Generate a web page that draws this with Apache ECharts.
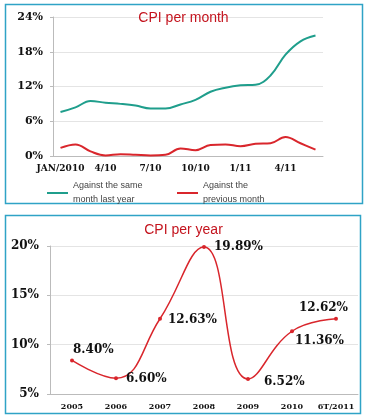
<!DOCTYPE html>
<html>
<head>
<meta charset="utf-8">
<script src="https://cdn.jsdelivr.net/npm/echarts@6/dist/echarts.min.js"></script>
<style>
html,body{margin:0;padding:0;background:#fff;}
#c{width:367px;height:417px;}
</style>
</head>
<body>
<div id="c"></div>
<script>
// ---- Data: CPI per month ----
var monthCategories = ["JAN/2010","2/10","3/10","4/10","5/10","6/10","7/10","8/10","9/10","10/10","11/10","12/10","1/11","2/11","3/11","4/11","5/11","6/11"];
var yoyValues = [7.6, 8.4, 9.5, 9.2, 9.0, 8.7, 8.2, 8.2, 8.9, 9.7, 11.1, 11.8, 12.2, 12.3, 13.9, 17.5, 19.8, 20.8];
var momValues = [1.4, 2.0, 0.8, 0.1, 0.3, 0.2, 0.1, 0.2, 1.3, 1.0, 1.9, 2.0, 1.7, 2.1, 2.2, 3.3, 2.2, 1.1];
var monthTitle = "CPI per month";
var yoyName = "Against the same\nmonth last year";
var momName = "Against the\nprevious month";

// ---- Data: CPI per year ----
var yearCategories = ["2005","2006","2007","2008","2009","2010","6T/2011"];
var yearValues = [8.40, 6.60, 12.63, 19.89, 6.52, 11.36, 12.62];
var yearTitle = "CPI per year";

var serif = "DejaVu Serif";
var sans = "Liberation Sans";
var teal = "#1f9e8c";
var red = "#d9262c";
var border = "#2fa3c6";

// per-point label offsets (style only)
var labelOffsets = [[-1,-11],[8,1],[6,1],[8,0],[14,3],[1,10],[-39,-11]];

var yearData = yearValues.map(function(v, i){
  return {value: v, label: {offset: labelOffsets[i]}};
});

var chart = echarts.init(document.getElementById('c'), null, {renderer:'canvas'});
chart.setOption({
  animation: false,
  backgroundColor: '#fff',
  title: [
    {text: monthTitle, left: 'center', top: 6, textStyle: {color: '#c4141e', fontFamily: sans, fontSize: 14, fontWeight: 'normal'}},
    {text: yearTitle, left: 'center', top: 218, textStyle: {color: '#c4141e', fontFamily: sans, fontSize: 14, fontWeight: 'normal'}}
  ],
  legend: [
    {data: [yoyName], left: 42, top: 174, icon: 'rect', itemWidth: 21, itemHeight: 2, itemGap: 5,
     textStyle: {fontFamily: sans, fontSize: 9, color: '#444', lineHeight: 14}},
    {data: [momName], left: 172, top: 174, icon: 'rect', itemWidth: 21, itemHeight: 2, itemGap: 5,
     textStyle: {fontFamily: sans, fontSize: 9, color: '#444', lineHeight: 14}}
  ],
  grid: [
    {left: 53, top: 17, width: 270, height: 139},
    {left: 50, top: 246, width: 308, height: 148}
  ],
  xAxis: [
    {type: 'category', gridIndex: 0, data: monthCategories, boundaryGap: true,
     axisLine: {lineStyle: {color: '#bbb'}},
     axisTick: {interval: 1, length: 4, lineStyle: {color: '#bbb'}},
     axisLabel: {interval: 2, margin: 8, fontFamily: serif, fontWeight: 'bold', fontSize: 9, color: '#111'}},
    {type: 'category', gridIndex: 1, data: yearCategories, boundaryGap: true,
     axisLine: {lineStyle: {color: '#bbb'}},
     axisTick: {length: 4, lineStyle: {color: '#bbb'}},
     axisLabel: {interval: 0, hideOverlap: false, margin: 9, fontFamily: serif, fontWeight: 'bold', fontSize: 8, color: '#111'}}
  ],
  yAxis: [
    {type: 'value', gridIndex: 0, min: 0, max: 24, interval: 6,
     axisLine: {show: true, lineStyle: {color: '#bbb'}},
     axisTick: {show: true, length: 3, lineStyle: {color: '#bbb'}},
     splitLine: {lineStyle: {color: '#e4e4e4'}},
     axisLabel: {margin: 10, fontFamily: serif, fontWeight: 'bold', fontSize: 11, color: '#111', formatter: '{value}%'}},
    {type: 'value', gridIndex: 1, min: 5, max: 20, interval: 5,
     axisLine: {show: true, lineStyle: {color: '#bbb'}},
     axisTick: {show: true, length: 3, lineStyle: {color: '#bbb'}},
     splitLine: {lineStyle: {color: '#e4e4e4'}},
     axisLabel: {margin: 11, fontFamily: serif, fontWeight: 'bold', fontSize: 12, color: '#111', formatter: '{value}%'}}
  ],
  series: [
    {name: yoyName, type: 'line', xAxisIndex: 0, yAxisIndex: 0, data: yoyValues, smooth: 0.4,
     showSymbol: false, color: teal, lineStyle: {width: 2, color: teal}},
    {name: momName, type: 'line', xAxisIndex: 0, yAxisIndex: 0, data: momValues, smooth: 0.4,
     showSymbol: false, color: red, lineStyle: {width: 2, color: red}},
    {name: 'year', type: 'line', xAxisIndex: 1, yAxisIndex: 1, data: yearData, smooth: 0.45,
     symbol: 'circle', symbolSize: 4, color: red, lineStyle: {width: 1.5, color: red},
     itemStyle: {color: red},
     label: {show: true, position: 'right', distance: 0, formatter: function(p){ return p.value.toFixed(2) + '%'; },
       fontFamily: serif, fontWeight: 'bold', fontSize: 12, color: '#111'}}
  ],
  graphic: [
    {type: 'rect', shape: {x: 5.5, y: 4.5, width: 357, height: 199}, style: {fill: 'none', stroke: border, lineWidth: 1.5}, silent: true},
    {type: 'rect', shape: {x: 5.5, y: 215.5, width: 355, height: 198}, style: {fill: 'none', stroke: border, lineWidth: 1.5}, silent: true}
  ]
});
</script>
</body>
</html>
